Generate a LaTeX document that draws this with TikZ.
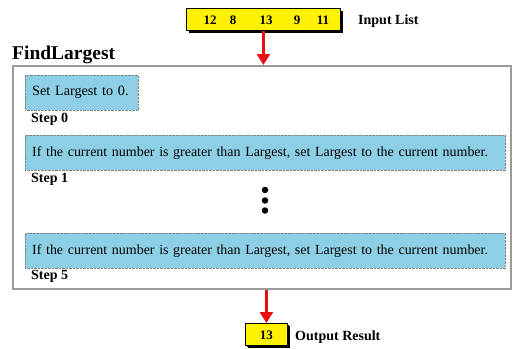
\documentclass[tikz,border=0pt]{standalone}
\usepackage{fontspec}
\setmainfont{Liberation Serif}
\usetikzlibrary{arrows.meta,shadows}
\definecolor{boxblue}{HTML}{8DD0E5}
\definecolor{framegray}{HTML}{9A9A9A}
\definecolor{arrred}{HTML}{E81010}
\tikzset{
  stepbox/.style={draw=gray, densely dotted, fill=boxblue, anchor=north west,
    inner ysep=0pt, minimum height=35pt, align=left,
    font=\fontsize{14.2}{16}\selectfont},
  longbox/.style={stepbox, minimum width=480pt, text width=466pt, inner xsep=7pt,
    font=\fontsize{13.95}{16}\selectfont},
  steplabel/.style={anchor=base west, inner sep=0pt, font=\fontsize{14}{16}\selectfont\bfseries},
  numlabel/.style={anchor=base, inner sep=0pt, font=\fontsize{13}{15}\selectfont\bfseries},
  yellowbox/.style={draw=black, line width=0.8pt, fill=yellow, anchor=north west,
    drop shadow={shadow xshift=3pt, shadow yshift=-3pt, fill=black, opacity=1}},
  dotnode/.style={circle, fill=black, inner sep=0pt, minimum size=6.5pt},
  redarrow/.style={draw=arrred, line width=2.4pt, -{Triangle[width=13pt,length=11pt]}},
}
\begin{document}
\begin{tikzpicture}[x=1pt,y=-1pt]
\useasboundingbox (0,0) rectangle (513,348);
% input list
\node[yellowbox, minimum width=154pt, minimum height=22pt] (inbox) at (186,8) {};
\node[numlabel] (n1) at (210,24) {12};
\node[numlabel] (n2) at (233,24) {8};
\node[numlabel] (n3) at (266,24) {13};
\node[numlabel] (n4) at (297,24) {9};
\node[numlabel] (n5) at (323,24) {11};
\node[steplabel] (inlabel) at (358,24) {Input List};
% title
\node[anchor=base west, inner sep=0pt, font=\fontsize{19.5}{22}\selectfont\bfseries] (title) at (12,59) {FindLargest};
% frame
\node[draw=framegray, line width=1.5pt, anchor=north west, minimum width=498pt, minimum height=223pt] (frame) at (12,65) {};
% steps
\node[stepbox, minimum width=113pt, text width=99pt, inner xsep=7pt] (s0) at (25,75) {Set Largest to 0.};
\node[steplabel] (l0) at (31,122) {Step 0};
\node[longbox] (s1) at (25,135) {If the current number is greater than Largest, set Largest to the current number.};
\node[steplabel] (l1) at (31,182) {Step 1};
\node[dotnode] (d1) at (265,190) {};
\node[dotnode] (d2) at (265,200.5) {};
\node[dotnode] (d3) at (265,210.5) {};
\node[longbox] (s5) at (25,233) {If the current number is greater than Largest, set Largest to the current number.};
\node[steplabel] (l5) at (31,279) {Step 5};
% output
\node[yellowbox, drop shadow={shadow xshift=1.5pt, shadow yshift=-1.5pt, fill=black, opacity=1}, minimum width=42pt, minimum height=22pt] (outbox) at (245,323) {};
\node[numlabel] (o1) at (outbox.center |- 0,339) {13};
\node[steplabel] (outlabel) at (295,340) {Output Result};
% arrows
\draw[redarrow] (inbox.south) -- (inbox.south |- frame.north);
\draw[redarrow] (outbox.north |- frame.south) -- (outbox.north);
\end{tikzpicture}
\end{document}
